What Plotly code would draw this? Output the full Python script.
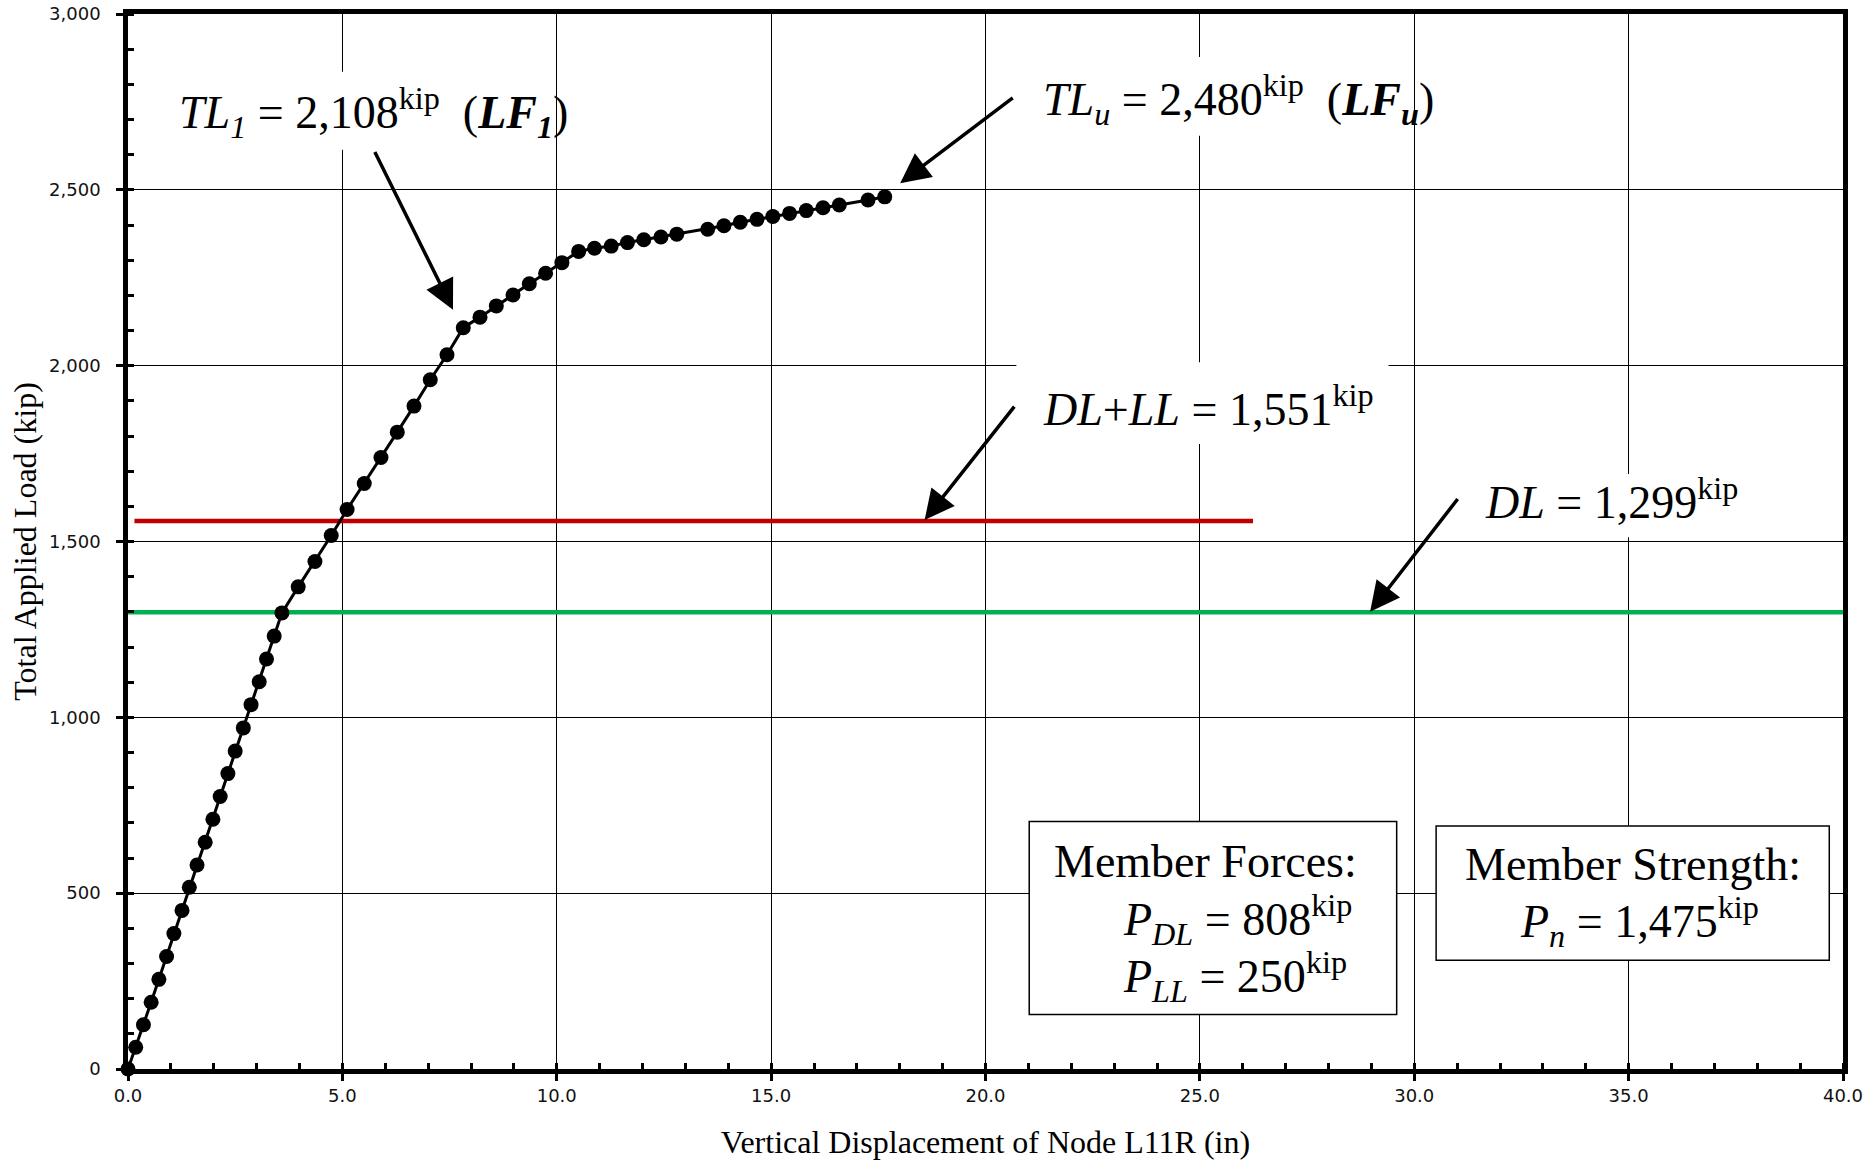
import plotly.graph_objects as go

# ---- data ----
disp_in = [0, 0.18, 0.36, 0.54, 0.72, 0.90, 1.07, 1.26, 1.43, 1.61,
           1.80, 1.98, 2.15, 2.33, 2.50, 2.69, 2.87, 3.06, 3.23, 3.41,
           3.59, 3.97, 4.36, 4.74, 5.11, 5.51, 5.90, 6.28, 6.67, 7.05,
           7.44, 7.82, 8.21, 8.59, 8.98, 9.36, 9.74, 10.12, 10.51, 10.88,
           11.27, 11.65, 12.03, 12.43, 12.80, 13.52, 13.90, 14.28, 14.67, 15.04,
           15.43, 15.82, 16.21, 16.59, 17.26, 17.65]
load_kip = [0, 62, 126, 190, 255, 320, 385, 451, 517, 580,
            645, 710, 775, 840, 904, 970, 1036, 1101, 1166, 1231,
            1297, 1371, 1443, 1517, 1591, 1665, 1739, 1811, 1885, 1960,
            2031, 2108, 2138, 2170, 2201, 2233, 2263, 2293, 2325, 2334,
            2340, 2350, 2358, 2366, 2374, 2388, 2398, 2408, 2416, 2424,
            2433, 2441, 2449, 2457, 2471, 2480]

dl_line_x = [0, 40]
dl_line_y = [1299, 1299]
dlll_line_x = [0.15, 26.24]
dlll_line_y = [1558, 1558]

TL1 = "2,108"
TLU = "2,480"
DLLL = "1,551"
DL = "1,299"
P_DL = "808"
P_LL = "250"
P_N = "1,475"

x_ticks = [0, 5, 10, 15, 20, 25, 30, 35, 40]
y_ticks = [0, 500, 1000, 1500, 2000, 2500, 3000]

SERIF = "Liberation Serif, Times New Roman, serif"
BIG = 46

fig = go.Figure()

fig.add_trace(go.Scatter(x=dl_line_x, y=dl_line_y, mode="lines",
                         line=dict(color="#00B050", width=4.5), hoverinfo="skip"))
fig.add_trace(go.Scatter(x=dlll_line_x, y=dlll_line_y, mode="lines",
                         line=dict(color="#C00000", width=4.5), hoverinfo="skip"))
fig.add_trace(go.Scatter(x=disp_in, y=load_kip, mode="lines+markers",
                         line=dict(color="black", width=3),
                         marker=dict(color="black", size=15),
                         cliponaxis=False))

# white text-box backgrounds (above grid, below traces)
bg_boxes = [
    (0.9, 9.95, 2614, 2836),
    (20.3, 29.9, 2654, 2878),
    (20.72, 29.4, 1777, 2010),
    (30.15, 38.1, 1512, 1692),
]
for x0, x1, y0, y1 in bg_boxes:
    fig.add_shape(type="rect", x0=x0, x1=x1, y0=y0, y1=y1, xref="x", yref="y",
                  fillcolor="white", line=dict(width=0), layer="between")

# bordered boxes
for x0, x1, y0, y1 in [(21.02, 29.59, 155, 704), (30.51, 39.68, 309, 691)]:
    fig.add_shape(type="rect", x0=x0, x1=x1, y0=y0, y1=y1, xref="x", yref="y",
                  fillcolor="white", line=dict(color="black", width=1.5), layer="above")

def txt(x, y, t, xanchor="center", size=BIG):
    fig.add_annotation(x=x, y=y, xref="x", yref="y", text=t, showarrow=False,
                       xanchor=xanchor, yanchor="middle",
                       font=dict(family=SERIF, size=size, color="black"))

def arrow(x0, y0, x1, y1):
    fig.add_annotation(x=x1, y=y1, ax=x0, ay=y0, xref="x", yref="y",
                       axref="x", ayref="y", text="", showarrow=True,
                       arrowhead=2, arrowsize=1.7, arrowwidth=3.5, arrowcolor="black")

txt(5.73, 2720, f"<i>TL<sub>1</sub></i> = {TL1}<sup>kip</sup>&nbsp; (<b><i>LF<sub>1</sub></i></b>)")
txt(25.9, 2758, f"<i>TL<sub>u</sub></i> = {TLU}<sup>kip</sup>&nbsp; (<b><i>LF<sub>u</sub></i></b>)")
txt(25.2, 1885, f"<i>DL</i>+<i>LL</i> = {DLLL}<sup>kip</sup>")
txt(34.59, 1622, f"<i>DL</i> = {DL}<sup>kip</sup>")

txt(25.13, 590, "Member Forces:")
txt(23.15, 425, f"<i>P<sub>DL</sub></i> = {P_DL}<sup>kip</sup>", xanchor="left")
txt(23.15, 263, f"<i>P<sub>LL</sub></i> = {P_LL}<sup>kip</sup>", xanchor="left")
txt(35.1, 582, "Member Strength:")
txt(35.25, 420, f"<i>P<sub>n</sub></i> = {P_N}<sup>kip</sup>")

arrow(5.74, 2612, 7.58, 2159)
arrow(20.67, 2765, 18.01, 2519)
arrow(20.70, 1888, 18.58, 1561)
arrow(31.04, 1625, 28.97, 1300)

axis_common = dict(showline=True, linecolor="black", linewidth=4.5, mirror=True,
                   showgrid=True, gridcolor="black", gridwidth=1,
                   ticks="outside", ticklen=7, tickwidth=2.5, tickcolor="black",
                   zeroline=False,
                   tickfont=dict(family="DejaVu Sans", size=18, color="#111"))

fig.update_xaxes(range=[0, 40], tickvals=x_ticks, tickformat=".1f",
                 minor=dict(ticks="inside", ticklen=6, tickwidth=2.5, dtick=1,
                            tickcolor="black", showgrid=False),
                 title=dict(text="Vertical Displacement of Node L11R (in)",
                            font=dict(family=SERIF, size=32, color="black"), standoff=28),
                 **axis_common)
fig.update_yaxes(range=[0, 3000], tickvals=y_ticks, tickformat=",",
                 minor=dict(ticks="inside", ticklen=6, tickwidth=2.5, dtick=100,
                            tickcolor="black", showgrid=False),
                 ticklabelstandoff=12,
                 title=dict(text="Total Applied Load (kip)",
                            font=dict(family=SERIF, size=32, color="black"), standoff=4),
                 **axis_common)

fig.update_layout(width=1868, height=1160, showlegend=False,
                  plot_bgcolor="white", paper_bgcolor="white",
                  margin=dict(l=128, r=25, t=14, b=91, autoexpand=False))

fig.write_html("out.html")
